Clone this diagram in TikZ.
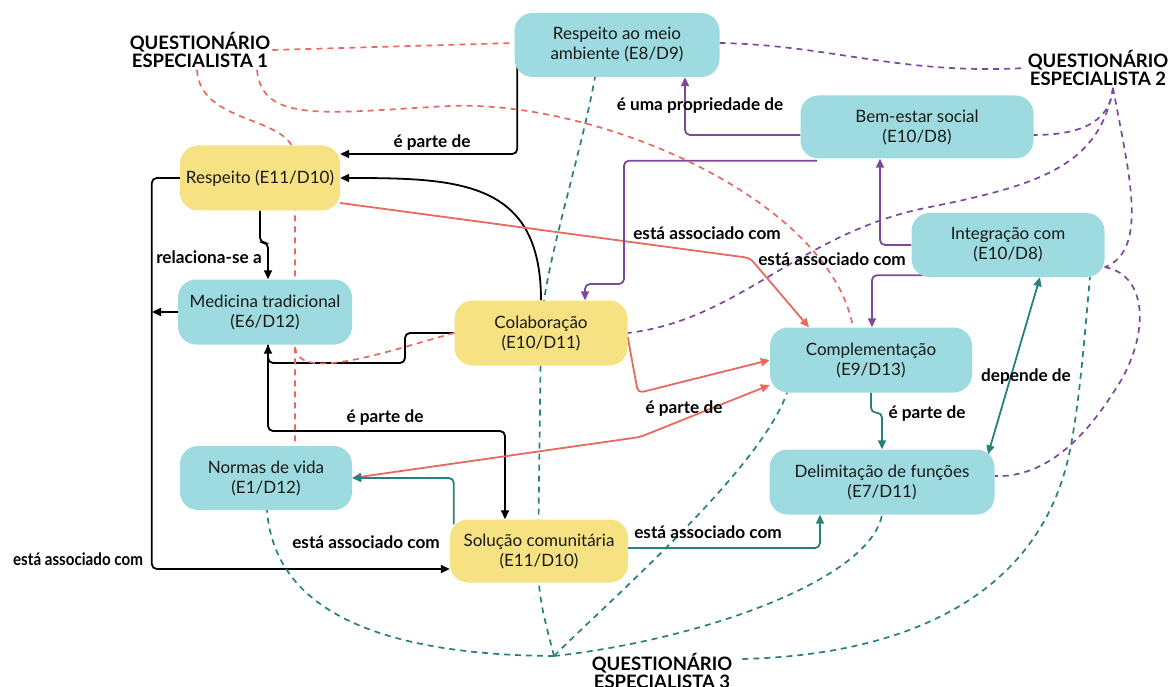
\documentclass[tikz,border=0pt]{standalone}
\usepackage{fontspec}
\setmainfont{Lato}
\usetikzlibrary{arrows.meta,backgrounds}
\definecolor{boxTeal}{RGB}{158,219,224}
\definecolor{boxSun}{RGB}{247,226,131}
\definecolor{lnTeal}{RGB}{38,128,124}
\definecolor{lnRed}{RGB}{232,105,95}
\definecolor{lnPurple}{RGB}{126,72,154}

\begin{document}
\begin{tikzpicture}[x=1pt,y=-1pt,>={Triangle[length=9pt,width=8pt]},
    concept/.style={fill=boxTeal,rounded corners=18pt,align=center,inner sep=0pt,
      text=black!90,font=\fontsize{17}{20}\selectfont},
    keyconcept/.style={concept,fill=boxSun},
    quest/.style={font=\bfseries\fontsize{18.5}{18}\selectfont,align=center,inner sep=2pt},
    rel/.style={font=\bfseries\fontsize{17.2}{19}\selectfont,inner sep=0pt},
    link/.style={line width=1.8pt,rounded corners=5pt},
    qlink/.style={line width=1.7pt,dash pattern=on 6pt off 5pt}]
  \useasboundingbox (0,0) rectangle (1170,687);
  % conceitos
  \node[concept,minimum width=205pt,minimum height=64pt] (meio) at (617,45) {Respeito ao meio\\ambiente (E8/D9)};
  \node[concept,minimum width=233pt,minimum height=63pt] (bem) at (917,127) {Bem-estar social\\(E10/D8)};
  \node[keyconcept,minimum width=160pt,minimum height=65pt] (resp) at (260,178) {Respeito (E11/D10)};
  \node[concept,minimum width=193pt,minimum height=64pt] (integ) at (1008,245) {Integração com\\(E10/D8)};
  \node[concept,minimum width=174pt,minimum height=65pt] (medic) at (265,312) {Medicina tradicional\\(E6/D12)};
  \node[keyconcept,minimum width=173pt,minimum height=65pt] (colab) at (541,333) {Colaboração\\(E10/D11)};
  \node[concept,minimum width=202pt,minimum height=65pt] (compl) at (871,360) {Complementação\\(E9/D13)};
  \node[concept,minimum width=172pt,minimum height=64pt] (normas) at (266,478) {Normas de vida\\(E1/D12)};
  \node[concept,minimum width=225pt,minimum height=65pt] (delim) at (882,482) {Delimitação de funções\\(E7/D11)};
  \node[keyconcept,minimum width=178pt,minimum height=63pt] (solu) at (539,551) {Solução comunitária\\(E11/D10)};
  % questionarios
  \node[quest] (q1) at (200,50) {QUESTIONÁRIO\\ESPECIALISTA 1};
  \node[quest] (q2) at (1098,68) {QUESTIONÁRIO\\ESPECIALISTA 2};
  \node[quest] (q3) at (662,671) {QUESTIONÁRIO\\ESPECIALISTA 3};
  \coordinate (hub) at (554,656);
  \coordinate (spine) at (152,312);
  \coordinate (rjoin) at (295,345);
  % rotulos
  \node[rel] (l1) at (432,143) {é parte de};
  \node[rel] (l2) at (209,257) {relaciona-se a};
  \node[rel] (l3) at (700,106) {é uma propriedade de};
  \node[rel] (l4) at (707,233) {está associado com};
  \node[rel] (l5) at (832,259) {está associado com};
  \node[rel] (l6) at (385,418) {é parte de};
  \node[rel] (l7) at (684,409) {é parte de};
  \node[rel] (l8) at (927,414) {é parte de};
  \node[rel] (l9) at (1026,377) {depende de};
  \node[rel] (l10) at (366,542) {está associado com};
  \node[rel] (l11) at (708,532) {está associado com};
  \node[rel] (l12) at (78,559) {\scalebox{0.88}[1]{está associado com}};
  \begin{scope}[on background layer]
    \draw[link,->] ([xshift=3pt]meio.west) |- (resp.east |- 0,154);
    \draw[link,->] (colab.north) to[out=90,in=0,looseness=1.3] (resp.east);
    \draw[link,->] (resp.south) -- ++(0,32) -| ([xshift=3pt]medic.north);
    \draw[link,->] (resp.west) -- ++(-28,0) |- ([yshift=-18pt]solu.west);
    \draw[link,->] (medic.west) -- (spine);
    \draw[link,->] (colab.west) -| (405,363) -| ([xshift=3pt]medic.south);
    \draw[link,->] ([xshift=3pt]medic.south) |- (505,431) -- ([xshift=-34pt]solu.north);
    \draw[link,lnRed,->] ([yshift=-25pt]resp.east) -- (750,258) -- ([xshift=-62pt]compl.north);
    \draw[link,lnRed,->] ([yshift=-4pt]colab.east) -- (638,393) -- (compl.west);
    \draw[link,lnRed,<->] (normas.east) -- (640,437) -- ([yshift=-25pt]compl.west);
    \draw[link,lnPurple,->] ([yshift=-8pt]bem.west) -| ([xshift=68pt]meio.south);
    \draw[link,lnPurple,->] ([xshift=-100pt,yshift=-2pt]bem.south) -| (624,284) -| ([xshift=44pt]colab.north);
    \draw[link,lnPurple,->] (integ.west) -| ([xshift=-37pt]bem.south);
    \draw[link,lnPurple,->] ([xshift=-60pt,yshift=2pt]integ.south) -| ([xshift=1pt]compl.north);
    \draw[link,lnTeal,->] (compl.south) -- ++(0,20) -| (delim.north);
    \draw[link,lnTeal,<->] ([xshift=32pt]integ.south) -- ([xshift=106pt,yshift=-5pt]delim.north);
    \draw[link,lnTeal,->] ([yshift=3pt]solu.east) -| ([xshift=-62pt]delim.south);
    \draw[link,lnTeal,->] ([xshift=4pt,yshift=-5pt]solu.north west) |- (normas.east);
    % especialista 1
    \draw[qlink,lnRed] (q1.east) -- ([yshift=2pt]meio.west);
    \draw[qlink,lnRed] ([xshift=-3pt]q1.south) .. controls (200,125) and (290,115) .. (295,155) -- ([xshift=29pt]normas.north);
    \draw[qlink,lnRed] (colab.west) .. controls (390,350) and (295,385) .. (rjoin);
    \draw[qlink,lnRed] ([xshift=57pt]q1.south) .. controls (262,125) and (330,112) .. (450,106) .. controls (600,100) and (830,200) .. ([xshift=-18pt]compl.north);
    % especialista 2
    \draw[qlink,lnPurple] ([yshift=2pt]meio.east) .. controls (830,45) and (900,75) .. (q2.west);
    \draw[qlink,lnPurple] ([xshift=15pt]q2.south) .. controls (1110,125) and (1075,135) .. ([yshift=-8pt]bem.east);
    \draw[qlink,lnPurple] ([xshift=15pt]q2.south) .. controls (1100,165) and (1040,185) .. (930,207) .. controls (800,232) and (740,320) .. (colab.east);
    \draw[qlink,lnPurple] ([xshift=15pt]q2.south) .. controls (1128,170) and (1150,250) .. ([yshift=10pt]integ.south east);
    \draw[qlink,lnPurple] ([yshift=10pt]integ.south east) .. controls (1150,275) and (1150,340) .. (1113,393) .. controls (1080,445) and (1040,478) .. ([yshift=6pt]delim.east);
    % especialista 3
    \draw[qlink,lnTeal] (hub) .. controls (545,620) and (538,600) .. (538,560) -- (541,330) .. controls (543,270) and (580,160) .. ([xshift=-22pt]meio.south);
    \draw[qlink,lnTeal] (hub) .. controls (400,655) and (275,620) .. ([xshift=1pt]normas.south);
    \draw[qlink,lnTeal] (hub) .. controls (610,600) and (760,470) .. ([xshift=-84pt]compl.south);
    \draw[qlink,lnTeal] (hub) .. controls (700,640) and (870,580) .. (delim.south);
    \draw[qlink,lnTeal] ([xshift=8pt,yshift=12pt]q3.east) .. controls (900,655) and (1040,600) .. (1070,450) .. controls (1080,400) and (1085,330) .. ([xshift=82pt]integ.south);
  \end{scope}
\end{tikzpicture}
\end{document}
